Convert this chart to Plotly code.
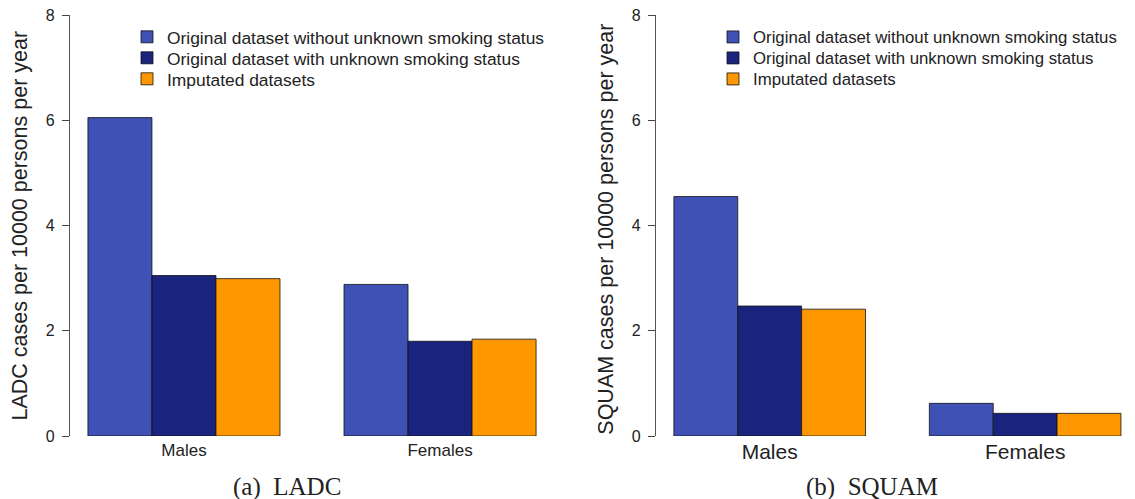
import plotly.graph_objects as go

groups = ["Males", "Females"]
series_names = [
    "Original dataset without unknown smoking status",
    "Original dataset with unknown smoking status",
    "Imputated datasets",
]
ladc_without = [6.05, 2.88]
ladc_with = [3.05, 1.80]
ladc_imputed = [2.99, 1.84]
squam_without = [4.55, 0.62]
squam_with = [2.47, 0.43]
squam_imputed = [2.41, 0.43]
y_ticks = [0, 2, 4, 6, 8]

colors = ["#3F51B5", "#1A237E", "#FF9800"]
W, H = 1135, 499
T, B = 15, 63
PH = H - T - B

fig = go.Figure()

legend_rows_px = [37, 58, 79]
left = [ladc_without, ladc_with, ladc_imputed]
right = [squam_without, squam_with, squam_imputed]
for i, (name, vals) in enumerate(zip(series_names, left)):
    fig.add_trace(go.Bar(x=groups, y=vals, name=name, marker=dict(color=colors[i], line=dict(color="#111111", width=0.8)),
                         xaxis="x", yaxis="y", legend="legend" if i == 0 else f"legend{i + 1}", offsetgroup=str(i)))
for i, (name, vals) in enumerate(zip(series_names, right)):
    fig.add_trace(go.Bar(x=groups, y=vals, name=name, marker=dict(color=colors[i], line=dict(color="#111111", width=0.8)),
                         xaxis="x2", yaxis="y2", legend=f"legend{i + 4}", offsetgroup=str(i)))

font_fam = "Liberation Sans, Arial, sans-serif"
yax = dict(range=[0, 8], tickvals=y_ticks, ticks="outside", ticklen=7, tickwidth=1.2, tickcolor="#444444",
           showline=True, linecolor="#555555", linewidth=1.3, showgrid=False, zeroline=False,
           ticklabelstandoff=4,
           tickfont=dict(size=16, color="#222222", family=font_fam), fixedrange=True)

legends = {}
for k in range(6):
    key = "legend" if k == 0 else f"legend{k + 1}"
    xpx = 127 if k < 3 else 713
    size = 17.4 if k < 3 else 16.8
    ypx = legend_rows_px[k % 3]
    legends[key] = dict(x=xpx / W, y=(H - B - ypx) / PH, xanchor="left", yanchor="middle",
                        font=dict(size=size, color="#222222"), bgcolor="rgba(0,0,0,0)")

fig.update_layout(
    width=W, height=H,
    margin=dict(l=0, r=0, t=T, b=B, autoexpand=False),
    plot_bgcolor="white", paper_bgcolor="white",
    barmode="group", bargap=0.25, bargroupgap=0,
    font=dict(family=font_fam, color="#222222"),
    xaxis=dict(domain=[70 / W, 554 / W], range=[-0.445, 1.445], showline=False, ticks="", showgrid=False,
               tickfont=dict(size=17, color="#222222"), ticklabelstandoff=2),
    xaxis2=dict(domain=[656 / W, 1.0], range=[-0.445, 1.43], showline=False, ticks="", showgrid=False,
                tickfont=dict(size=21, color="#222222"), anchor="y2", ticklabelstandoff=1),
    yaxis=dict(**yax, anchor="x"),
    yaxis2=dict(**yax, anchor="x2"),
    showlegend=True,
    **legends,
)

fig.add_annotation(text="LADC cases per 10000 persons per year", textangle=-90, xref="paper", yref="paper",
                   x=19 / W, y=0.5, xanchor="center", yanchor="middle", showarrow=False,
                   font=dict(size=21.5, color="#222222"))
fig.add_annotation(text="SQUAM cases per 10000 persons per year", textangle=-90, xref="paper", yref="paper",
                   x=606 / W, y=0.49, xanchor="center", yanchor="middle", showarrow=False,
                   font=dict(size=21.5, color="#222222"))
fig.add_annotation(text="(a)  LADC", xref="paper", yref="paper", x=287 / W, y=-(487 - (H - B)) / PH,
                   xanchor="center", yanchor="middle", showarrow=False,
                   font=dict(size=25, family="Liberation Serif, DejaVu Serif, serif", color="#222222"))
fig.add_annotation(text="(b)  SQUAM", xref="paper", yref="paper", x=872 / W, y=-(487 - (H - B)) / PH,
                   xanchor="center", yanchor="middle", showarrow=False,
                   font=dict(size=25, family="Liberation Serif, DejaVu Serif, serif", color="#222222"))

fig.write_html("out.html", config={"displayModeBar": False}, post_script="document.body.style.margin='0';")
